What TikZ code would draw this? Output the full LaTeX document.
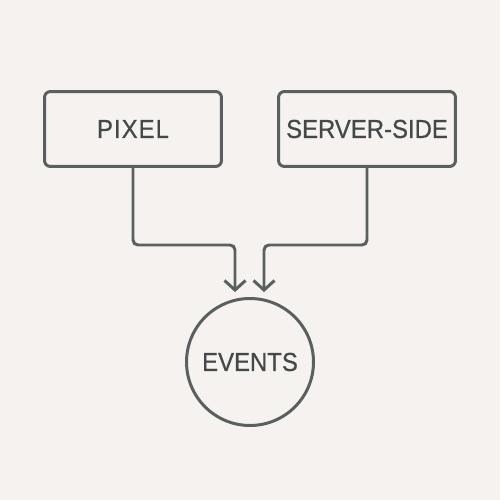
\documentclass[tikz,border=0pt]{standalone}
\usepackage{fontspec}
\setmainfont{Liberation Sans}[FakeStretch=0.92, FakeBold=0.6]
\usetikzlibrary{arrows.meta}
\definecolor{bg}{HTML}{F5F2EF}
\definecolor{ln}{HTML}{5A5F5F}
\definecolor{tx}{HTML}{434848}
\tikzset{
  boxnode/.style={draw=ln, line width=1.7pt, rounded corners=0.12cm, minimum width=3.54cm, minimum height=1.5cm, inner sep=0pt, text=tx, font=\fontsize{14.8}{16}\selectfont},
  circnode/.style={draw=ln, line width=1.7pt, circle, minimum size=2.54cm, inner sep=0pt, text=tx, font=\fontsize{14.8}{16}\selectfont},
  conn/.style={draw=ln, line width=1.7pt, rounded corners=0.1cm, -{Straight Barb[length=1.9mm, width=4.2mm, line width=1.7pt]}, shorten >=0.1cm}
}
\begin{document}
\begin{tikzpicture}[x=0.02cm, y=-0.02cm]
\fill[bg] (0,0) rectangle (500,500);
\useasboundingbox (0,0) rectangle (500,500);
\node[boxnode] (p) at (133,129) {\addfontfeature{LetterSpace=4}PIXEL};
\node[boxnode] (s) at (367,129) {SERVER-SIDE};
\node[circnode] (e) at (250,362) {EVENTS};
\coordinate (j1) at (235,245);
\coordinate (j2) at (264,245);
\draw[conn] (p.south) |- (j1) -- (j1 |- e.north);
\draw[conn] (s.south) |- (j2) -- (j2 |- e.north);
\end{tikzpicture}
\end{document}
